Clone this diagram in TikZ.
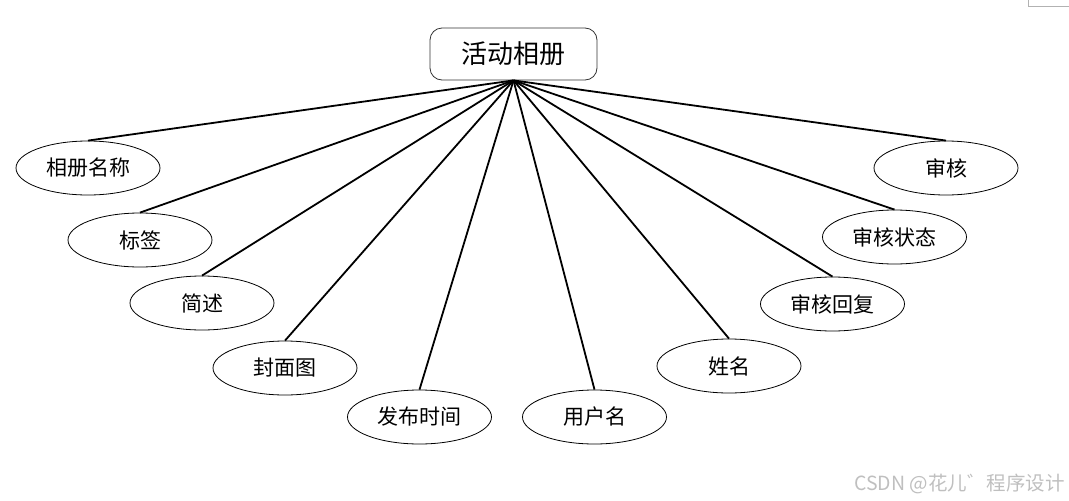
\documentclass[tikz,border=0pt]{standalone}
\usepackage{fontspec}
\newfontfamily\cjk{Noto Sans CJK SC}
\usetikzlibrary{shapes.geometric}
\tikzset{
  attr/.style={draw=black, line width=0.8pt, ellipse, minimum width=144pt, minimum height=54pt, inner sep=0pt, font=\cjk\fontsize{21}{21}\selectfont},
  rootbox/.style={draw=black!80, line width=0.8pt, rounded corners=12pt, minimum width=167pt, minimum height=52pt, inner sep=0pt, font=\cjk\fontsize{26}{26}\selectfont},
  link/.style={line width=1.8pt, black}
}
\begin{document}
\begin{tikzpicture}[x=1pt,y=-1pt]
\path[use as bounding box] (0,0) rectangle (1069,501);
\node[rootbox] (root) at (513.5,54) {活动相册};
\node[attr] (a1) at (88,168) {相册名称};
\node[attr] (a2) at (140,240) {标签};
\node[attr] (a3) at (202,303) {简述};
\node[attr] (a4) at (285,368) {封面图};
\node[attr] (a5) at (419.5,417) {发布时间};
\node[attr] (a6) at (594.5,417) {用户名};
\node[attr] (a7) at (729,366) {姓名};
\node[attr] (a8) at (832.5,304) {审核回复};
\node[attr] (a9) at (894.5,237) {审核状态};
\node[attr] (a10) at (946,168) {审核};
\foreach \n in {a1,a2,a3,a4,a5,a6,a7,a8,a9,a10}
  \draw[link] (root.south) -- (\n.north);
\draw[black!30, line width=0.8pt] (1028,0) -- (1028,6) -- (1069,6);
\node[text=black!25, font=\cjk\fontsize{19.5}{19.5}\selectfont, anchor=east, inner sep=0pt] (wm) at (1065,484) {CSDN @花儿゛程序设计};
\end{tikzpicture}
\end{document}
